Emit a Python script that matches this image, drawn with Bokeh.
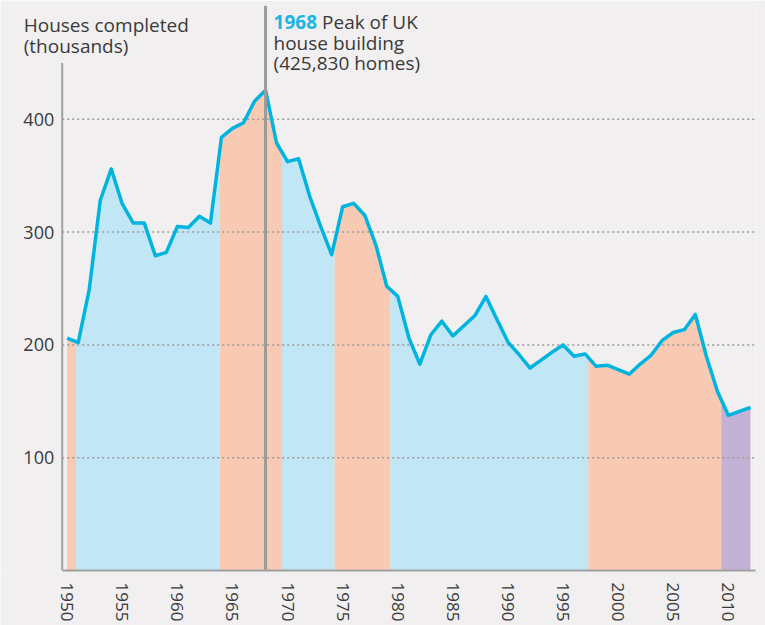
import numpy as np
from bokeh.plotting import figure
from bokeh.models import Label, Span, FixedTicker
from bokeh.core.properties import value
from bokeh.embed import file_html
from bokeh.resources import INLINE

# ---- data -------------------------------------------------------------
years = list(range(1950, 2013))
houses = [206, 202, 249, 328, 356, 325, 308, 308, 279, 282,
          305, 304, 314, 308, 384, 392, 397, 416, 425.83, 379,
          362.5, 365, 332, 305, 280, 322.5, 325.5, 315, 289, 252,
          243, 206.5, 183, 209, 221, 208, 217, 226, 243, 222.5,
          202.5, 191.5, 179.5, 186.5, 193.5, 200, 190, 192, 181, 182,
          178, 174, 183, 191, 204, 211, 213.5, 227, 190, 159,
          137.5, 141, 144.5]

# government periods (start, end, party)
gov_start = [1950.0, 1950.81, 1963.86, 1969.5, 1974.26, 1979.34, 1997.29, 2009.35]
gov_end = [1950.81, 1963.86, 1969.5, 1974.26, 1979.34, 1997.29, 2009.35, 2012.0]
gov_party = ["Labour", "Conservative", "Labour", "Conservative", "Labour",
             "Conservative", "Labour", "Coalition"]

y_ticks = [100, 200, 300, 400]
x_ticks = [1950, 1955, 1960, 1965, 1970, 1975, 1980, 1985, 1990, 1995, 2000, 2005, 2010]

peak_year = 1968

party_colors = {"Labour": "#f9cab3", "Conservative": "#c1e6f5", "Coalition": "#c3b2d6"}

BG = "#f1eff0"
TXT = "#3a3a3a"
AXC = "#a0a0a0"
FONT = "Open Sans"

# plot geometry (data units)
X_START, X_END = 1943.95, 2012.46
AX_X = 1949.55          # where the y axis line sits
Y_TOP = 500.9
AX_Y_TOP = 450

# ---- figure -----------------------------------------------------------
p = figure(width=765, height=625, x_range=(X_START, X_END), y_range=(0, Y_TOP),
           output_backend="svg", toolbar_location=None,
           min_border_left=0, min_border_right=10, min_border_top=5, min_border_bottom=55)
p.background_fill_color = BG
p.border_fill_color = BG
p.outline_line_color = None
p.xgrid.visible = False
p.ygrid.visible = False
p.yaxis.visible = False

yrs = np.array(years, dtype=float)
vals = np.array(houses, dtype=float)
for s, e, party in zip(gov_start, gov_end, gov_party):
    inner = yrs[(yrs > s) & (yrs < e)]
    xs = np.concatenate([[s], inner, [e]])
    ys = np.interp(xs, yrs, vals)
    p.varea(x=xs, y1=0, y2=ys, fill_color=party_colors[party], fill_alpha=1.0)

# horizontal dotted grid lines
n = len(y_ticks)
p.segment(x0=[AX_X] * n, y0=y_ticks, x1=[X_END] * n, y1=y_ticks,
          line_color="#9a9a9a", line_dash="2 3", line_width=1.5)

p.line(years, houses, line_color="#00b4e0", line_width=3.5, line_join="round")

# y axis line and tick labels
p.segment(x0=[AX_X], y0=[0], x1=[AX_X], y1=[AX_Y_TOP], line_color=AXC, line_width=2)
p.text(x=[AX_X] * n, y=y_ticks, text=[str(t) for t in y_ticks], x_offset=-8,
       text_align="right", text_baseline="middle", text_font=value(FONT),
       text_font_size="18px", text_color=TXT)

# x axis
p.xaxis.ticker = FixedTicker(ticks=x_ticks)
p.xaxis.bounds = (AX_X, X_END)
p.xaxis.axis_line_color = AXC
p.xaxis.axis_line_width = 2
p.xaxis.major_tick_line_color = None
p.xaxis.minor_tick_line_color = None
p.xaxis.major_tick_out = 0
p.xaxis.major_tick_in = 0
p.xaxis.major_label_orientation = "vertical"
p.xaxis.major_label_standoff = 12
p.xaxis.major_label_text_font = FONT
p.xaxis.major_label_text_font_size = "17px"
p.xaxis.major_label_text_color = TXT

# peak marker
p.add_layout(Span(location=peak_year, dimension="height", line_color="#9b9b9b", line_width=3))

# annotations
def lab(text, x, y, xoff, color=TXT, style="normal"):
    p.add_layout(Label(x=x, y=y, x_offset=xoff, text=text, text_font=FONT,
                       text_font_size="19px", text_color=color, text_font_style=style,
                       text_baseline="alphabetic", text_align="left"))

lab("Houses completed", AX_X, 483.8, -38.5)
lab("(thousands)", AX_X, 464.8, -38.5)

lab("1968", peak_year, 486.7, 8, color="#1ab6e0", style="bold")
lab("Peak of UK", peak_year, 486.7, 56.5)
lab("house building", peak_year, 467.6, 8)
lab("(425,830 homes)", peak_year, 449.5, 8)

open("out.html", "w").write(file_html(p, INLINE))
